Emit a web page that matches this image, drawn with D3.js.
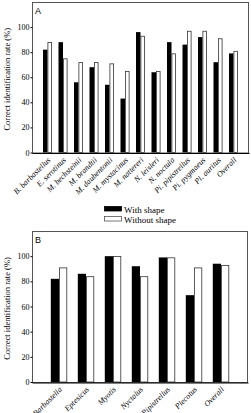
<!DOCTYPE html>
<html>
<head>
<meta charset="utf-8">
<script src="https://cdn.jsdelivr.net/npm/d3@7"></script>
<style>
  body { margin: 0; background: #fff; }
  svg { display: block; }
  .tick text { font-family: 'Liberation Serif', serif; font-size: 8px; }
</style>
</head>
<body>
<div id="chart"></div>
<script>
// Panel A: species
const speciesA = ['B. barbastellus', 'E. serotinus', 'M. bechsteinii', 'M. brandtii', 'M. daubentonii',
  'M. mystacinus', 'M. nattereri', 'N. leisleri', 'N. noctula', 'Pi. pipistrellus', 'Pi. pygmaeus',
  'Pl. auritus', 'Overall'];
const withShapeA = [82, 88, 56, 68, 54, 43, 96, 64, 88, 86, 92, 72, 79];
const withoutShapeA = [88, 75, 72, 72, 71, 65, 93, 65, 79, 97, 97, 91, 81];

// Panel B: genera
const generaB = ['Barbastella', 'Eptesicus', 'Myotis', 'Nyctalus', 'Pipistrellus', 'Plecotus', 'Overall'];
const withShapeB = [82, 86, 100, 92, 99, 69, 94];
const withoutShapeB = [91, 84, 100, 84, 99, 91, 93];

const yTicks = [0, 20, 40, 60, 80, 100];
const seriesNames = ['With shape', 'Without shape'];

const W = 251;
const H = 413;

const svg = d3.select('#chart').append('svg')
  .attr('width', W)
  .attr('height', H);

function drawPanel({ letter, cats, s1, s2, left, right, top, bottom, barW }) {
  const x = d3.scalePoint().domain(cats).range([left, right]).padding(1);
  const y = d3.scaleLinear().domain([0, 120]).range([bottom, top]);
  const g = svg.append('g');

  // рамка
  g.append('rect')
    .attr('x', left + 0.5)
    .attr('y', top + 0.5)
    .attr('width', right - left - 1)
    .attr('height', bottom - top)
    .attr('fill', 'none')
    .attr('stroke', '#555')
    .attr('stroke-width', 1);

  g.selectAll('.b1').data(cats).enter().append('rect')
    .attr('x', (d) => x(d) - barW)
    .attr('y', (d, i) => y(s1[i]))
    .attr('width', barW)
    .attr('height', (d, i) => y(0) - y(s1[i]))
    .attr('fill', '#000');

  g.selectAll('.b2').data(cats).enter().append('rect')
    .attr('x', (d) => x(d) + 0.4)
    .attr('y', (d, i) => y(s2[i]) + 0.4)
    .attr('width', barW - 0.8)
    .attr('height', (d, i) => y(0) - y(s2[i]) - 0.4)
    .attr('fill', '#fff')
    .attr('stroke', '#333')
    .attr('stroke-width', 0.8);

  const yAxis = g.append('g')
    .attr('transform', `translate(${left + 0.5},0)`)
    .call(d3.axisLeft(y).tickValues(yTicks).tickSize(2).tickPadding(1));
  yAxis.select('.domain').remove();

  const xAxis = g.append('g')
    .attr('transform', `translate(0,${bottom + 0.5})`)
    .call(d3.axisBottom(x).tickSize(0).tickFormat(''));
  xAxis.select('.domain').attr('stroke', '#000');

  // подписи категорий (в оригинале нижние обрезаны краем)
  g.selectAll('.xl').data(cats).enter().append('text')
    .attr('transform', (d) => `translate(${x(d) + 3.5},${bottom + 8}) rotate(-45)`)
    .attr('text-anchor', 'end')
    .attr('font-family', 'Liberation Serif, serif')
    .attr('font-style', 'italic')
    .attr('font-size', 8)
    .text((d) => d);

  g.append('text')
    .attr('transform', `translate(10,${(top + bottom) / 2 + 2}) rotate(-90)`)
    .attr('text-anchor', 'middle')
    .attr('font-family', 'Liberation Serif, serif')
    .attr('font-size', 8.5)
    .text('Correct identification rate (%)');

  g.append('text')
    .attr('x', left + 3)
    .attr('y', top + 12)
    .attr('font-family', 'Liberation Sans, sans-serif')
    .attr('font-size', 9)
    .text(letter);
}

drawPanel({
  letter: 'A', cats: speciesA, s1: withShapeA, s2: withoutShapeA,
  left: 32, right: 249, top: 2, bottom: 152.5, barW: 4.5,
});

drawPanel({
  letter: 'B', cats: generaB, s1: withShapeB, s2: withoutShapeB,
  left: 32, right: 248, top: 231, bottom: 382, barW: 8.2,
});

// легенда
const legend = svg.append('g').attr('transform', 'translate(104,206)');
seriesNames.forEach((name, i) => {
  legend.append('rect')
    .attr('x', 0.5)
    .attr('y', i * 10 + 0.5)
    .attr('width', 17)
    .attr('height', 4.5)
    .attr('fill', i === 0 ? '#000' : '#fff')
    .attr('stroke', i === 0 ? '#000' : '#555')
    .attr('stroke-width', 0.8);
  legend.append('text')
    .attr('x', 20)
    .attr('y', i * 10 + 6.5)
    .attr('font-family', 'Liberation Serif, serif')
    .attr('font-size', 9)
    .text(name);
});
</script>
</body>
</html>
